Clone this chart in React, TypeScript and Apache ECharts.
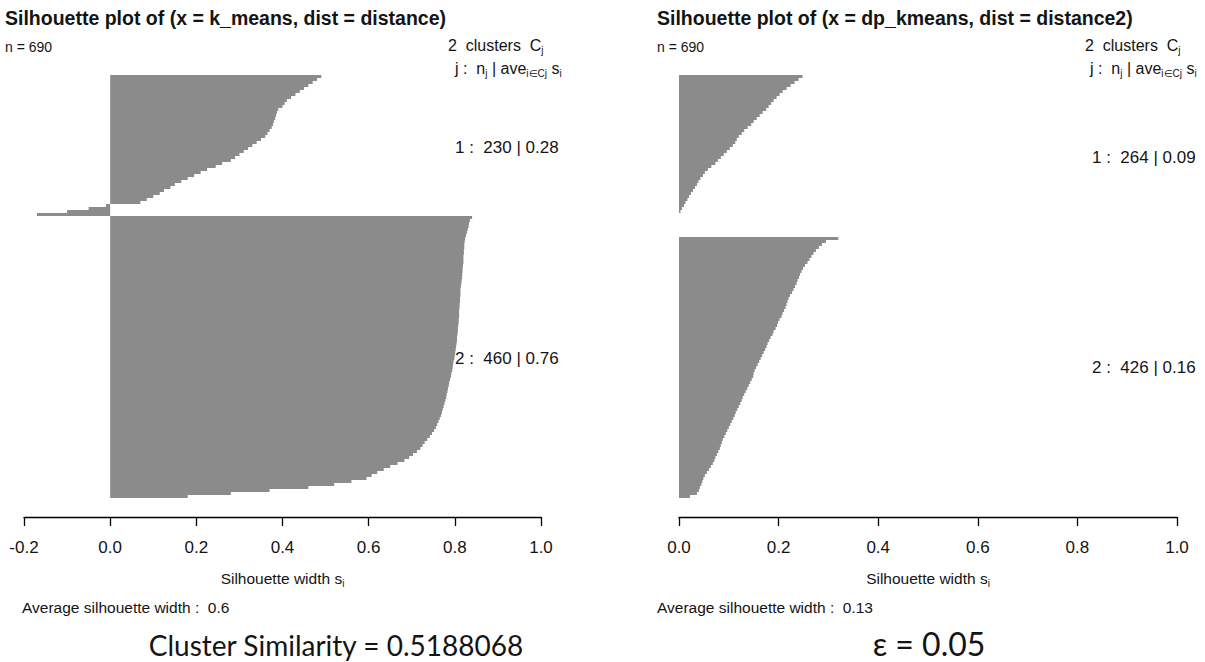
import React, { useEffect, useRef } from "react";
import * as echarts from "echarts";

// ---------- data ----------
// 141 bars per panel (690 observations).
const leftCluster1 = [
  0.49, 0.48, 0.47, 0.46, 0.45, 0.44, 0.43, 0.42, 0.41, 0.405,
  0.4, 0.39, 0.387, 0.385, 0.383, 0.38, 0.378, 0.375, 0.37, 0.365, 0.36,
  0.35, 0.34, 0.33, 0.32, 0.31, 0.3, 0.29, 0.28, 0.26, 0.245,
  0.225, 0.21, 0.195, 0.18, 0.165, 0.15, 0.14, 0.125, 0.115, 0.1, 0.085, 0.07,
  -0.01, -0.05, -0.1, -0.17,
];
const leftCluster2 = [
  0.84, 0.835, 0.833, 0.832, 0.83, 0.828, 0.826, 0.824, 0.823, 0.822,
  0.822, 0.821, 0.821, 0.82, 0.82, 0.82, 0.819, 0.818,
  0.818, 0.817, 0.817, 0.816, 0.815, 0.814, 0.813,
  0.813, 0.813, 0.812, 0.812, 0.811, 0.811, 0.81, 0.81,
  0.81, 0.809, 0.809, 0.808, 0.807, 0.807, 0.806, 0.805,
  0.805, 0.804, 0.803, 0.802, 0.801, 0.8, 0.799, 0.797,
  0.796, 0.795, 0.794, 0.792, 0.791, 0.789, 0.787,
  0.786, 0.784, 0.783, 0.781, 0.78, 0.778,
  0.776, 0.774, 0.772, 0.77, 0.768, 0.765,
  0.762, 0.759, 0.756, 0.752, 0.747,
  0.742, 0.736, 0.73, 0.725, 0.72,
  0.712, 0.703, 0.694, 0.683, 0.667,
  0.65, 0.635, 0.62, 0.607, 0.595,
  0.56, 0.52, 0.46, 0.37, 0.28, 0.18,
];
const rightCluster1 = [
  0.248, 0.24, 0.232, 0.224, 0.216, 0.208, 0.202, 0.196, 0.19, 0.185, 0.18,
  0.175, 0.168, 0.162, 0.156, 0.15, 0.145, 0.138, 0.131, 0.126, 0.12,
  0.116, 0.113, 0.108, 0.102, 0.096, 0.09, 0.084, 0.078, 0.073, 0.065,
  0.058, 0.052, 0.048, 0.043, 0.039, 0.036, 0.032, 0.028, 0.024, 0.02,
  0.017, 0.013, 0.01, 0.006, 0.003,
  -0.002, -0.008, -0.014, -0.019, -0.024, -0.029, -0.034, -0.039,
];
const rightCluster2 = [
  0.32, 0.295, 0.287, 0.281, 0.275, 0.27, 0.266, 0.262, 0.258, 0.253,
  0.249, 0.246, 0.243, 0.241, 0.238, 0.236, 0.233, 0.23, 0.227, 0.223,
  0.22, 0.218, 0.216, 0.214, 0.211, 0.208, 0.206, 0.202, 0.199, 0.197, 0.194,
  0.19, 0.188, 0.184, 0.181, 0.178, 0.176, 0.173, 0.17, 0.167, 0.164,
  0.161, 0.158, 0.155, 0.152, 0.15, 0.149, 0.146, 0.143, 0.14, 0.137, 0.134,
  0.131, 0.128, 0.126, 0.123, 0.12, 0.117, 0.114, 0.112, 0.109, 0.106,
  0.103, 0.1, 0.097, 0.094, 0.091, 0.088, 0.086, 0.084, 0.082, 0.079,
  0.076, 0.073, 0.071, 0.068, 0.064, 0.06, 0.056, 0.052, 0.049, 0.047,
  0.045, 0.042, 0.04, 0.036, 0.022,
];

const leftTitle = "Silhouette plot of (x = k_means, dist = distance)";
const rightTitle = "Silhouette plot of (x = dp_kmeans, dist = distance2)";
const nObs = 690;
const leftSizes = [230, 460];
const leftAverages = ["0.28", "0.76"];
const rightSizes = [264, 426];
const rightAverages = ["0.09", "0.16"];
const leftOverall = "0.6";
const rightOverall = "0.13";
const leftCaption = "Cluster Similarity = 0.5188068";
const rightCaption = "\u03b5 = 0.05";

const leftMin = -0.2;
const rightMin = 0;
const axisMax = 1.0;
const tickStep = 0.2;

// ---------- styles ----------
const FONT = '"Liberation Sans", Arial, sans-serif';
const BAR = "#8b8b8b";
const INK = "#141414";

const leftData = [...leftCluster1, ...leftCluster2];
const rightData = [...rightCluster1, ...rightCluster2];
const leftCats = leftData.map((_, i) => String(i + 1));
const rightCats = rightData.map((_, i) => String(i + 1));

const subRich = {
  m: { fontFamily: FONT, fontSize: 16, color: INK, lineHeight: 20, verticalAlign: "middle" },
  s: { fontFamily: FONT, fontSize: 10, color: INK, lineHeight: 20, verticalAlign: "bottom" },
};

function xAxisFor(gridIndex: number, min: number) {
  return {
    gridIndex,
    type: "value",
    min,
    max: axisMax,
    interval: tickStep,
    position: "bottom",
    offset: 19,
    axisLine: { show: true, onZero: false, lineStyle: { color: "#000", width: 1.3 } },
    axisTick: { show: true, inside: false, length: 9, lineStyle: { color: "#000", width: 1.3 } },
    axisLabel: {
      margin: 22,
      fontFamily: FONT,
      fontSize: 17,
      color: INK,
      formatter: (v: number) => v.toFixed(1),
    },
    splitLine: { show: false },
    name: "{m|Silhouette width s}{s|i}",
    nameLocation: "middle",
    nameGap: 51,
    nameTextStyle: {
      rich: {
        m: { fontFamily: FONT, fontSize: 15.5, color: INK, lineHeight: 20, verticalAlign: "middle" },
        s: { fontFamily: FONT, fontSize: 10, color: INK, lineHeight: 20, verticalAlign: "bottom" },
      },
    },
  };
}

function txt(x: number, y: number, text: string, size: number, opts: any = {}) {
  return {
    type: "text",
    x,
    y,
    silent: true,
    style: {
      text,
      fontFamily: opts.family || FONT,
      fontSize: size,
      fontWeight: opts.bold ? "bold" : "normal",
      fill: INK,
      align: opts.align || "left",
      verticalAlign: "middle",
      rich: opts.rich,
    },
  };
}

const legendHead = "{m|2  clusters  C}{s|j}";
const legendSub = "{m|j :  n}{s|j}{m| | ave}{s|i\u2208Cj}{m| s}{s|i}";

export default function App() {
  const ref = useRef<HTMLDivElement>(null);
  useEffect(() => {
    if (!ref.current) return;
    const chart = echarts.init(ref.current, undefined, { renderer: "svg" });
    const barStyle = { color: BAR, borderWidth: 0 };
    const option: any = {
      animation: false,
      backgroundColor: "#ffffff",
      grid: [
        { left: 24, top: 75, width: 517, height: 423 },
        { left: 679, top: 75, width: 498, height: 423 },
      ],
      xAxis: [xAxisFor(0, leftMin), xAxisFor(1, rightMin)],
      yAxis: [
        { gridIndex: 0, type: "category", inverse: true, show: false, data: leftCats },
        { gridIndex: 1, type: "category", inverse: true, show: false, data: rightCats },
      ],
      series: [
        {
          type: "bar",
          xAxisIndex: 0,
          yAxisIndex: 0,
          data: leftData,
          barCategoryGap: "0%",
          silent: true,
          itemStyle: barStyle,
        },
        {
          type: "bar",
          xAxisIndex: 1,
          yAxisIndex: 1,
          data: rightData,
          barCategoryGap: "0%",
          silent: true,
          itemStyle: barStyle,
        },
      ],
      graphic: [
        // left panel
        txt(5, 18, leftTitle, 19.5, { bold: true }),
        txt(5, 47, `n = ${nObs}`, 14),
        txt(448, 45, legendHead, 16, { rich: subRich }),
        txt(455, 68, legendSub, 16, { rich: subRich }),
        txt(455, 147, `1 :  ${leftSizes[0]} | ${leftAverages[0]}`, 17),
        txt(455, 358, `2 :  ${leftSizes[1]} | ${leftAverages[1]}`, 17),
        txt(22, 607, `Average silhouette width :  ${leftOverall}`, 15.5),
        txt(336, 645, leftCaption, 28, { family: "Lato, sans-serif", align: "center" }),
        // right panel
        txt(657, 18, rightTitle, 19.5, { bold: true }),
        txt(657, 47, `n = ${nObs}`, 14),
        txt(1085, 45, legendHead, 16, { rich: subRich }),
        txt(1090, 68, legendSub, 16, { rich: subRich }),
        txt(1092, 157, `1 :  ${rightSizes[0]} | ${rightAverages[0]}`, 17),
        txt(1092, 367, `2 :  ${rightSizes[1]} | ${rightAverages[1]}`, 17),
        txt(657, 607, `Average silhouette width :  ${rightOverall}`, 15.5),
        txt(929, 643, rightCaption, 32, { family: "Lato, sans-serif", align: "center" }),
      ],
    };
    chart.setOption(option);
    return () => chart.dispose();
  }, []);
  return (
    <div
      ref={ref}
      style={{ position: "fixed", left: 0, top: 0, width: 1205, height: 662, background: "#fff" }}
    />
  );
}
